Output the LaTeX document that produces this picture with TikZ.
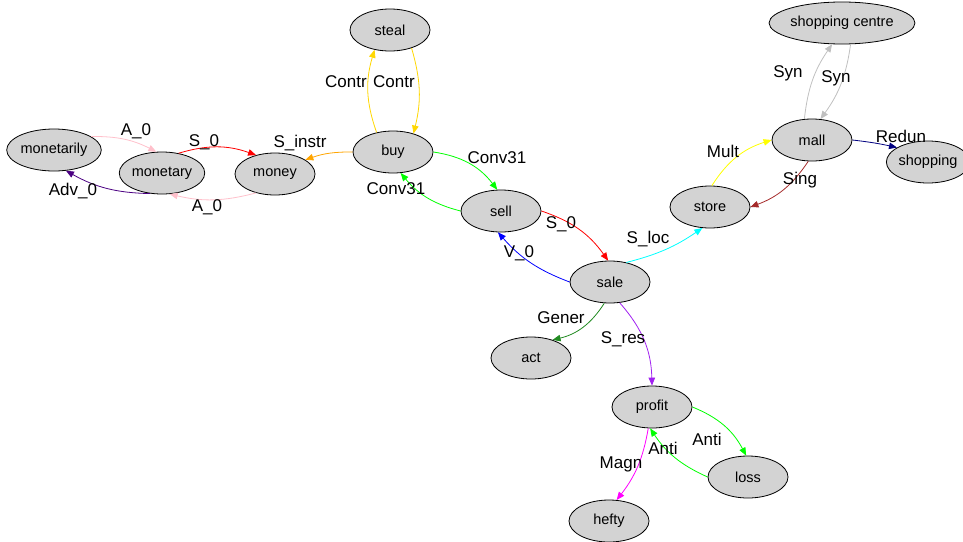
\documentclass[tikz,border=0pt]{standalone}
\usepackage{fontspec}
\setmainfont{Liberation Sans}
\usetikzlibrary{arrows.meta}
\definecolor{cgold}{HTML}{FFD700}
\definecolor{corange}{HTML}{FFA500}
\definecolor{cpink}{HTML}{FFC0CB}
\definecolor{cindigo}{HTML}{4B0082}
\definecolor{cgreen}{HTML}{00FF00}
\definecolor{ccyan}{HTML}{00FFFF}
\definecolor{cyellow}{HTML}{FFFF00}
\definecolor{cbrown}{HTML}{A52A2A}
\definecolor{csilver}{HTML}{C0C0C0}
\definecolor{cnavy}{HTML}{000080}
\definecolor{cforest}{HTML}{228B22}
\definecolor{cpurple}{HTML}{A020F0}
\definecolor{cmagenta}{HTML}{FF00FF}
\definecolor{cfill}{HTML}{D3D3D3}
\tikzset{
  wnode/.style={ellipse, draw=black, fill=cfill, line width=0.8pt, minimum width=80pt, minimum height=42pt, inner sep=0pt, font=\fontsize{14.5}{16}\selectfont},
  elab/.style={inner sep=0pt, font=\fontsize{17}{19}\selectfont},
  rel/.style={line width=0.8pt, -{Triangle[length=8pt,width=6.5pt]}},
}
\usetikzlibrary{shapes.geometric}
\begin{document}
\begin{tikzpicture}[x=1pt,y=1pt]
\useasboundingbox (0,0) rectangle (963,-541);
% nodes
\node[wnode] (steal) at (390,-30) {steal};
\node[wnode] (buy) at (393,-152) {buy};
\node[wnode] (money) at (275,-174) {money};
\node[wnode, minimum width=85pt] (monetary) at (162,-173) {monetary};
\node[wnode, minimum width=92pt] (monetarily) at (54,-150) {monetarily};
\node[wnode] (sell) at (501,-211) {sell};
\node[wnode] (sale) at (610,-282) {sale};
\node[wnode] (store) at (710,-207) {store};
\node[wnode] (mall) at (812,-140) {mall};
\node[wnode, minimum width=136pt] (centre) at (842,-23) {shopping centre};
\node[wnode] (shopping) at (928,-162) {shopping};
\node[wnode] (act) at (531,-358) {act};
\node[wnode] (profit) at (652,-407) {profit};
\node[wnode] (loss) at (748,-477) {loss};
\node[wnode] (hefty) at (609,-521) {hefty};
% edges
\draw[rel, cgold] (buy.130) to[bend left=18] (steal.232);
\draw[rel, cgold] (steal.320) to[bend left=15] (buy.42);
\draw[rel, corange] (buy.west) to[bend right=10] (money.25);
\draw[rel, red] (monetary.50) to[bend left=18] (money.135);
\draw[rel, cpink] (money.225) to[bend left=14] (monetary.290);
\draw[rel, cpink] (monetarily.20) to[bend left=14] (monetary.105);
\draw[rel, cindigo] (monetary.240) to[bend left=14] (monetarily.300);
\draw[rel, cgreen] (buy.east) to[bend left=22] (sell.100);
\draw[rel, cgreen] (sell.west) to[bend left=18] (buy.290);
\draw[rel, red] (sell.east) to[bend left=18] (sale.95);
\draw[rel, blue] (sale.west) to[bend left=14] (sell.262);
\draw[rel, ccyan] (sale.50) to[bend right=10] (store.250);
\draw[rel, cyellow] (store.85) to[bend left=20] (mall.west);
\draw[rel, cbrown] (mall.260) to[bend left=18] (store.east);
\draw[rel, csilver] (mall.110) to[bend left=14] (centre.245);
\draw[rel, csilver] (centre.292) to[bend left=14] (mall.68);
\draw[rel, cnavy] (mall.east) to[bend left=3] (shopping.155);
\draw[rel, cforest] (sale.255) to[bend left=22] (act.40);
\draw[rel, cpurple] (sale.295) to[bend left=20] (profit.90);
\draw[rel, cgreen] (profit.east) to[bend left=20] (loss.95);
\draw[rel, cgreen] (loss.west) to[bend left=16] (profit.265);
\draw[rel, cmagenta] (profit.260) to[bend left=14] (hefty.70);
% labels
\node[elab] (l1) at (346,-82) {Contr};
\node[elab] (l2) at (394,-82) {Contr};
\node[elab] (l3) at (300,-143) {S\_instr};
\node[elab] (l4) at (204,-142) {S\_0};
\node[elab] (l5) at (136,-131) {A\_0};
\node[elab] (l6) at (73,-191) {Adv\_0};
\node[elab] (l7) at (207,-207) {A\_0};
\node[elab] (l8) at (497,-158) {Conv31};
\node[elab] (l9) at (396,-189) {Conv31};
\node[elab] (l10) at (561,-224) {S\_0};
\node[elab] (l11) at (519,-253) {V\_0};
\node[elab] (l12) at (648,-239) {S\_loc};
\node[elab] (l13) at (561,-318) {Gener};
\node[elab] (l14) at (623,-339) {S\_res};
\node[elab] (l15) at (723,-151) {Mult};
\node[elab] (l16) at (800,-180) {Sing};
\node[elab] (l17) at (788,-73) {Syn};
\node[elab] (l18) at (836,-78) {Syn};
\node[elab] (l19) at (901,-136) {Redun};
\node[elab] (l20) at (707,-439) {Anti};
\node[elab] (l21) at (663,-448) {Anti};
\node[elab] (l22) at (621,-464) {Magn};
\end{tikzpicture}
\end{document}
